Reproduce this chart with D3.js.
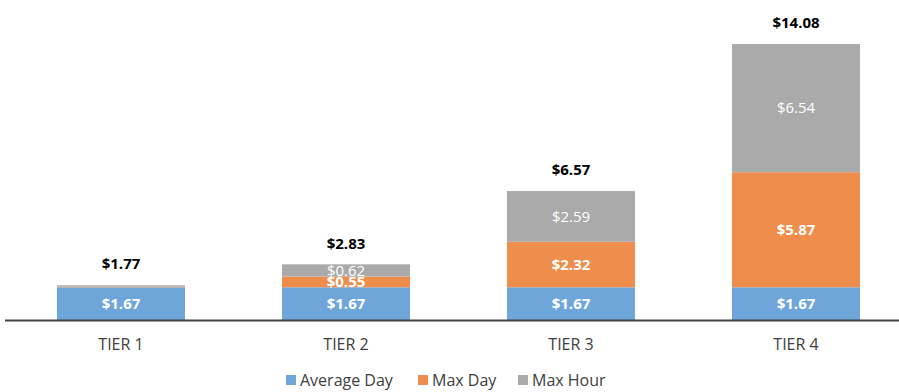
<!DOCTYPE html>
<html>
<head>
<meta charset="utf-8">
<script src="https://cdn.jsdelivr.net/npm/d3@7"></script>
<style>
  html, body { margin: 0; padding: 0; background: #fff; }
  svg { display: block; font-family: "Open Sans", "Liberation Sans", sans-serif; }
</style>
</head>
<body>
<svg id="chart" width="899" height="392"></svg>
<script>
// Tier cost breakdown (stacked)
const categories = ["TIER 1", "TIER 2", "TIER 3", "TIER 4"];
const seriesNames = ["Average Day", "Max Day", "Max Hour"];
const averageDay = [1.67, 1.67, 1.67, 1.67];
const maxDay = [0.04, 0.55, 2.32, 5.87];
const maxHour = [0.06, 0.62, 2.59, 6.54];
const totals = [1.77, 2.83, 6.57, 14.08];
const colors = ["#6EA6DA", "#EF8D4C", "#AAAAAA"];

const rows = categories.map((c, i) => ({
  tier: c,
  "Average Day": averageDay[i],
  "Max Day": maxDay[i],
  "Max Hour": maxHour[i],
  total: totals[i]
}));

const svg = d3.select("#chart");
const baseY = 320;

const x = d3.scaleBand().domain(categories).range([8.5, 908.5]).paddingInner(0.431).paddingOuter(0.2155);
const y = d3.scaleLinear().domain([0, 14.08]).range([baseY, 44]);

const stack = d3.stack().keys(seriesNames);
const layers = stack(rows);

const fmt = v => "$" + d3.format(".2f")(v);

const g = svg.append("g");
layers.forEach((layer, li) => {
  const lg = g.append("g").attr("fill", colors[li]);
  lg.selectAll("rect").data(layer).join("rect")
    .attr("x", d => x(d.data.tier))
    .attr("width", x.bandwidth())
    .attr("y", d => y(d[1]))
    .attr("height", d => y(d[0]) - y(d[1]));
  // value labels inside segments (skip slivers)
  g.append("g").selectAll("text").data(layer.filter(d => (d[1] - d[0]) >= 0.3)).join("text")
    .attr("x", d => x(d.data.tier) + x.bandwidth() / 2)
    .attr("y", d => (y(d[0]) + y(d[1])) / 2)
    .attr("dy", "0.36em")
    .attr("text-anchor", "middle")
    .attr("fill", "#fff")
    .attr("font-size", 15)
    .attr("font-weight", li === 2 ? "normal" : "bold")
    .text(d => fmt(d[1] - d[0]));
});

// totals above stacks
g.append("g").selectAll("text").data(rows).join("text")
  .attr("x", d => x(d.tier) + x.bandwidth() / 2)
  .attr("y", d => y(d.total) - 16)
  .attr("text-anchor", "middle")
  .attr("fill", "#000")
  .attr("font-size", 15)
  .attr("font-weight", "bold")
  .text(d => fmt(d.total));

// baseline axis
const axis = d3.axisBottom(x).tickSize(0).tickPadding(19);
const ax = svg.append("g").attr("transform", `translate(0,${baseY})`).call(axis);
ax.select(".domain").remove();
ax.selectAll("text").attr("font-size", 16).attr("fill", "#404040")
  .style("font-family", "\"Open Sans\", \"Liberation Sans\", sans-serif");
svg.append("line").attr("x1", 5).attr("x2", 899).attr("y1", baseY + 0.5).attr("y2", baseY + 0.5)
  .attr("stroke", "#404040").attr("stroke-width", 2);

// legend
const legendItems = [
  { name: seriesNames[0], color: colors[0], x: 286 },
  { name: seriesNames[1], color: colors[1], x: 418 },
  { name: seriesNames[2], color: colors[2], x: 518 }
];
const lgd = svg.append("g");
legendItems.forEach(it => {
  lgd.append("rect").attr("x", it.x).attr("y", 375).attr("width", 10).attr("height", 10).attr("fill", it.color);
  lgd.append("text").attr("x", it.x + 14).attr("y", 380).attr("dy", "0.36em")
    .attr("font-size", 16).attr("fill", "#404040").text(it.name);
});
</script>
</body>
</html>
